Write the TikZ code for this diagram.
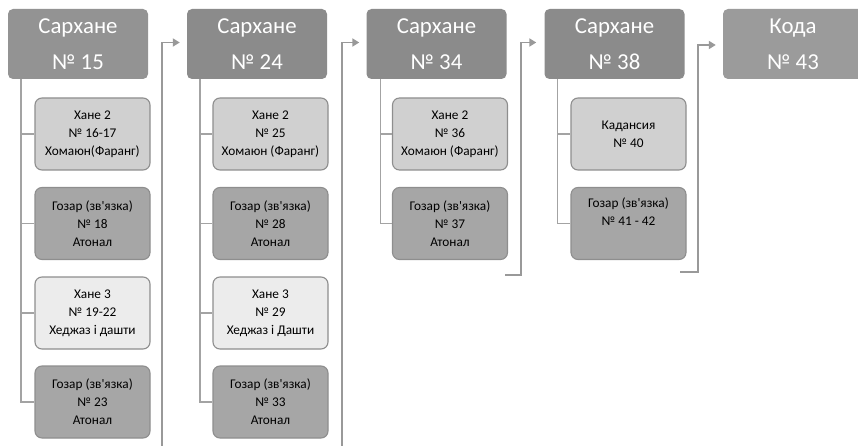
\documentclass[tikz,border=0pt]{standalone}
\usepackage{fontspec}
\setmainfont{Carlito}[Ligatures=TeXOff]
\usetikzlibrary{arrows.meta}
\definecolor{topA}{HTML}{939393}
\definecolor{topB}{HTML}{8B8B8B}
\definecolor{topC}{HTML}{9B9B9B}
\definecolor{kidL}{HTML}{D0D0D0}
\definecolor{kidD}{HTML}{A6A6A6}
\definecolor{kidW}{HTML}{ECECEC}
\definecolor{edge}{HTML}{8E8E8E}
\definecolor{wire}{HTML}{A3A3A3}
\definecolor{arrowc}{HTML}{999999}
\tikzset{
  topbox/.style={rectangle, rounded corners=5pt, minimum width=140pt, minimum height=70pt,
    inner sep=0pt, align=center, text=white, font=\fontsize{22.8}{36}\selectfont},
  kidbox/.style={rectangle, rounded corners=7pt, draw=edge, line width=1.1pt,
    minimum width=115pt, minimum height=72pt, inner sep=0pt, align=center,
    font=\fontsize{13.3}{18}\selectfont},
  trunk/.style={draw=wire, line width=1.5pt},
  flow/.style={draw=arrowc, line width=1.8pt, -{Triangle[length=7pt,width=8pt]}}
}
\begin{document}
\begin{tikzpicture}[x=1pt,y=-1pt]
\useasboundingbox (0,0) rectangle (858,446);
% top boxes
\node[topbox, fill=topA] (s1) at (78,44) {Сархане\\№ 15};
\node[topbox, fill=topB] (s2) at (257,44) {Сархане\\№ 24};
\node[topbox, fill=topB] (s3) at (436.5,44) {Сархане\\№ 34};
\node[topbox, fill=topB] (s4) at (614.5,44) {Сархане\\№ 38};
\node[topbox, fill=topC] (s5) at (793,44) {Кода\\№ 43};
% column 1
\node[kidbox, fill=kidL] (c11) at (92.5,134) {Хане 2\\№ 16-17\\Хомаюн(Фаранг)};
\node[kidbox, fill=kidD] (c12) at (92.5,223.5) {Гозар (зв'язка)\\№ 18\\Атонал};
\node[kidbox, fill=kidW] (c13) at (92.5,313) {Хане 3\\№ 19-22\\Хеджаз і дашти};
\node[kidbox, fill=kidD] (c14) at (92.5,402) {Гозар (зв'язка)\\№ 23\\Атонал};
% column 2
\node[kidbox, fill=kidL] (c21) at (270.5,134) {Хане 2\\№ 25\\Хомаюн (Фаранг)};
\node[kidbox, fill=kidD] (c22) at (270.5,223.5) {Гозар (зв'язка)\\№ 28\\Атонал};
\node[kidbox, fill=kidW] (c23) at (270.5,313) {Хане 3\\№ 29\\Хеджаз і Дашти};
\node[kidbox, fill=kidD] (c24) at (270.5,402) {Гозар (зв'язка)\\№ 33\\Атонал};
% column 3
\node[kidbox, fill=kidL] (c31) at (450,134) {Хане 2\\№ 36\\Хомаюн (Фаранг)};
\node[kidbox, fill=kidD] (c32) at (450,223.5) {Гозар (зв'язка)\\№ 37\\Атонал};
% column 4
\node[kidbox, fill=kidL] (c41) at (628.5,134) {Кадансия\\№ 40};
\node[kidbox, fill=kidD] (c42) at (628.5,223.5) {Гозар (зв'язка)\\№ 41 - 42\\\strut};
% trunks
\coordinate (t1) at ([xshift=13pt]s1.south west);
\coordinate (t2) at ([xshift=13pt]s2.south west);
\coordinate (t3) at ([xshift=14pt]s3.south west);
\coordinate (t4) at ([xshift=13pt]s4.south west);
\draw[trunk] (t1) |- (c14.west);
\draw[trunk] (t1 |- c11.west) -- (c11.west);
\draw[trunk] (t1 |- c12.west) -- (c12.west);
\draw[trunk] (t1 |- c13.west) -- (c13.west);
\draw[trunk] (t2) |- (c24.west);
\draw[trunk] (t2 |- c21.west) -- (c21.west);
\draw[trunk] (t2 |- c22.west) -- (c22.west);
\draw[trunk] (t2 |- c23.west) -- (c23.west);
\draw[trunk] (t3) |- (c32.west);
\draw[trunk] (t3 |- c31.west) -- (c31.west);
\draw[trunk] (t4) |- (c42.west);
\draw[trunk] (t4 |- c41.west) -- (c41.west);
% flow arrows
\coordinate (a1) at (162,452);
\coordinate (a2) at (342,452);
\coordinate (a3) at (505,275);
\coordinate (k3) at (521,275);
\coordinate (a4) at (680,272);
\coordinate (k4) at (698,272);
\draw[flow] (a1) |- ([shift={(-7,-1.5)}]s2.west);
\draw[flow] (a2) |- ([shift={(-7,-1.5)}]s3.west);
\draw[flow] (a3) -- (k3) |- ([shift={(-8,-1.5)}]s4.west);
\draw[flow] (a4) -- (k4) |- ([shift={(-7,1)}]s5.west);
\end{tikzpicture}
\end{document}
